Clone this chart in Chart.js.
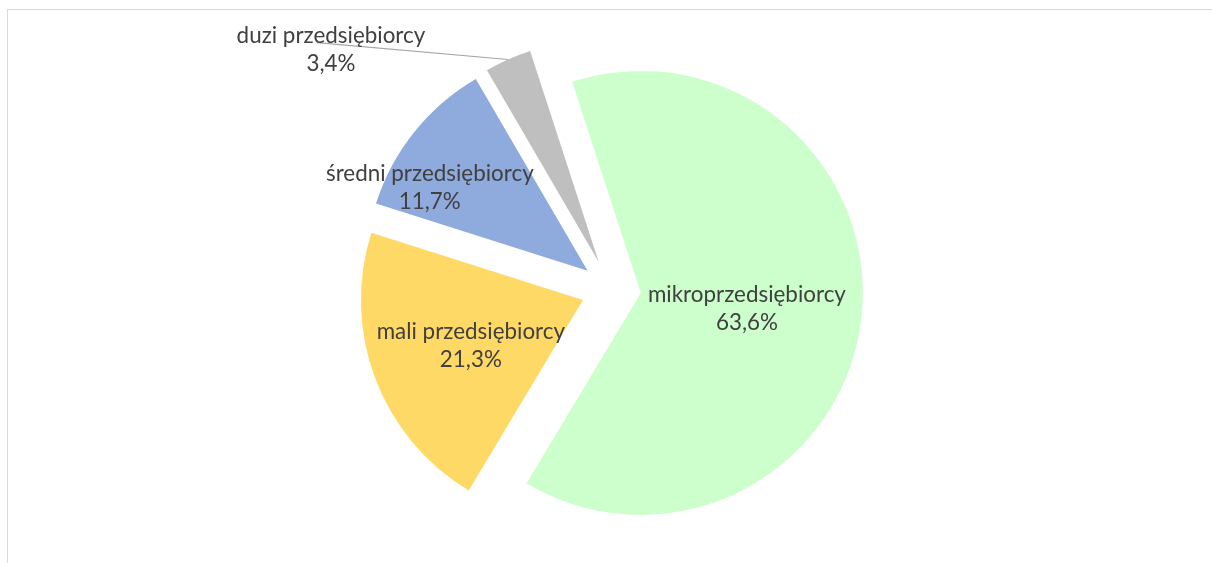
<!DOCTYPE html>
<html>
<head>
<meta charset="utf-8">
<script src="https://cdn.jsdelivr.net/npm/chart.js@4"></script>
<style>
  html, body { margin: 0; padding: 0; background: #fff; }
  #wrap { position: relative; width: 1212px; height: 563px; overflow: hidden; }
  #frame { position: absolute; left: 7px; top: 9px; width: 1300px; height: 700px;
           border-left: 1px solid #d9d9d9; border-top: 1px solid #d9d9d9; }
  canvas { position: absolute; left: 0; top: 0; }
</style>
</head>
<body>
<div id="wrap">
  <div id="frame"></div>
  <canvas id="piechart" width="1212" height="563"></canvas>
</div>
<script>
// data
const categories = ['mikroprzedsiębiorcy', 'mali przedsiębiorcy', 'średni przedsiębiorcy', 'duzi przedsiębiorcy'];
const shares = [63.6, 21.3, 11.7, 3.4];
const sliceColors = ['#ccffcc', '#ffd966', '#8faadc', '#bfbfbf'];

// label placement: distance from centre (x radius) and angle shift from slice middle (deg)
const labelPlacement = [
    { dist: 0.618, shift: 1.4 },
    { dist: 0.680, shift: -1.1 },
    { dist: 0.935, shift: -9.5 },
    { dist: 1.661, shift: -25.3, leader: true },
];

const EXPLODE = 30;
const fmt = v => v.toFixed(1).replace('.', ',') + '%';

// every slice pulled out by the same distance
const explodePlugin = {
    id: 'explode',
    beforeDatasetDraw(chart, args) {
        const ctx = chart.ctx;
        args.meta.data.forEach(arc => {
            const mid = (arc.startAngle + arc.endAngle) / 2;
            ctx.save();
            ctx.translate(Math.cos(mid) * EXPLODE, Math.sin(mid) * EXPLODE);
            arc.draw(ctx);
            ctx.restore();
        });
        return false;
    }
};

const sliceLabels = {
    id: 'sliceLabels',
    afterDatasetsDraw(chart) {
        const ctx = chart.ctx;
        const meta = chart.getDatasetMeta(0);
        ctx.save();
        ctx.font = '22.4px Lato';
        ctx.fillStyle = '#404040';
        ctx.textAlign = 'center';
        ctx.textBaseline = 'middle';
        meta.data.forEach((arc, i) => {
            const p = labelPlacement[i];
            const mid = (arc.startAngle + arc.endAngle) / 2;
            const a = mid + p.shift * Math.PI / 180;
            const r = arc.outerRadius * p.dist;
            const x = arc.x + Math.cos(a) * r;
            const y = arc.y + Math.sin(a) * r;
            if (p.leader) {
                const ro = arc.outerRadius + EXPLODE;
                ctx.beginPath();
                ctx.strokeStyle = '#a6a6a6';
                ctx.lineWidth = 1.2;
                ctx.moveTo(x - 14, y - 7);
                ctx.lineTo(arc.x + Math.cos(mid) * ro, arc.y + Math.sin(mid) * ro);
                ctx.stroke();
            }
            ctx.fillText(categories[i], x, y - 14);
            ctx.fillText(fmt(shares[i]), x, y + 14);
        });
        ctx.restore();
    }
};

new Chart(document.getElementById('piechart'), {
    type: 'pie',
    data: {
        labels: categories,
        datasets: [{
            data: shares,
            backgroundColor: sliceColors,
            borderWidth: 0,
        }],
    },
    options: {
        responsive: false,
        animation: false,
        events: [],
        rotation: -18,
        radius: 222,
        layout: { padding: { left: 10, right: 0, top: 16, bottom: 0 } },
        plugins: {
            legend: { display: false },
            tooltip: { enabled: false },
        },
    },
    plugins: [explodePlugin, sliceLabels],
});
</script>
</body>
</html>
